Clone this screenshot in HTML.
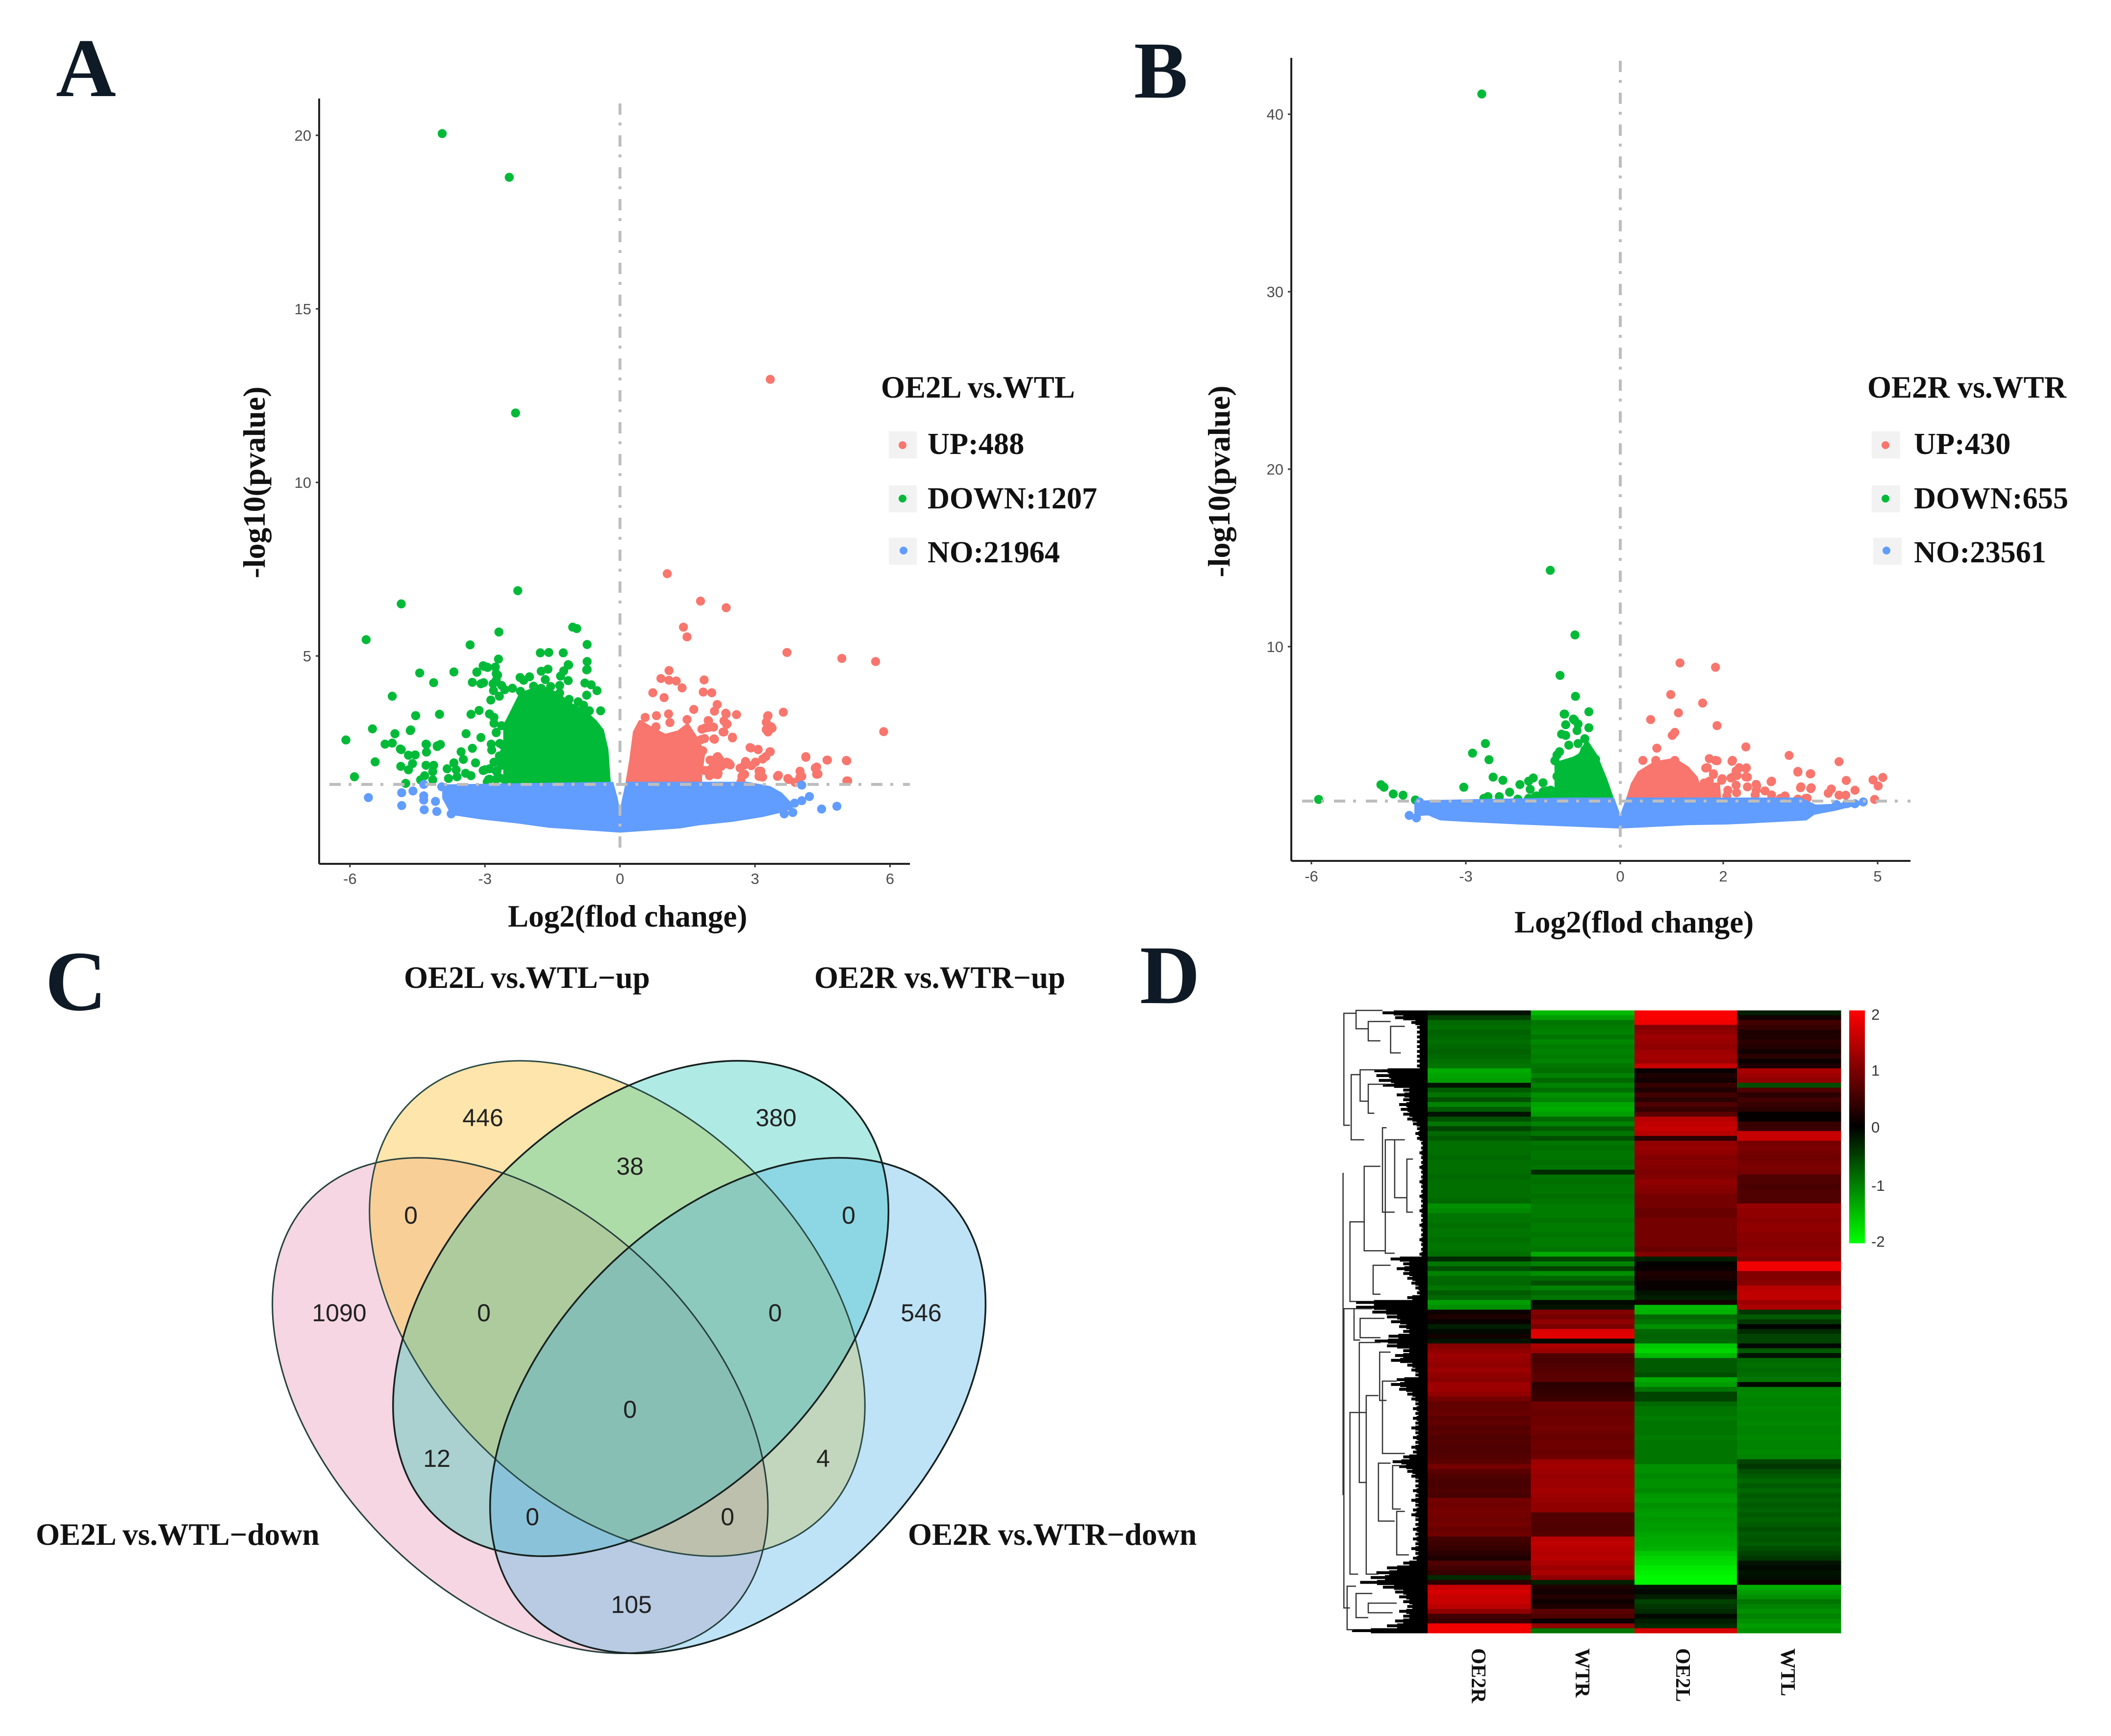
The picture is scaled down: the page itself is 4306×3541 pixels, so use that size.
<!DOCTYPE html>
<html lang="en">
<head>
<meta charset="utf-8">
<title>Differential expression figure</title>
<style>
html,body{margin:0;padding:0;background:#fff;}
svg{display:block;}
.serif{font-family:"Liberation Serif",serif;font-weight:bold;fill:#111;}
.letter{font-family:"Liberation Serif",serif;font-weight:bold;fill:#0e1a25;font-size:170px;}
.lab{font-size:63px;}
.ent{font-size:62.3px;}
.num{font-family:"Liberation Sans",sans-serif;font-size:50px;fill:#222;text-anchor:middle;}
.tick{font-family:"Liberation Sans",sans-serif;font-size:31px;fill:#4d4d4d;}
.cb{font-family:"Liberation Sans",sans-serif;font-size:31px;fill:#333;}
</style>
</head>
<body>
<svg id="fig" xmlns="http://www.w3.org/2000/svg" width="4306" height="3541" viewBox="0 0 4306 3541">
  <defs>
    <linearGradient id="cbGrad" x1="0" y1="0" x2="0" y2="1">
      <stop offset="0" stop-color="#ff0000"/>
      <stop offset="0.5" stop-color="#000000"/>
      <stop offset="1" stop-color="#00ff00"/>
    </linearGradient>
    <clipPath id="cP"><ellipse cx="1061" cy="2867" rx="600" ry="388" transform="rotate(45 1061 2867)"/></clipPath>
    <clipPath id="cY"><ellipse cx="1259" cy="2669" rx="596" ry="394" transform="rotate(45 1259 2669)"/></clipPath>
    <clipPath id="cT"><ellipse cx="1307" cy="2669" rx="596" ry="394" transform="rotate(-45 1307 2669)"/></clipPath>
    <clipPath id="cB"><ellipse cx="1505" cy="2867" rx="600" ry="388" transform="rotate(-45 1505 2867)"/></clipPath>
  </defs>
  <rect width="4306" height="3541" fill="#fff"/>

  <text class="letter" x="114" y="196">A</text>
  <text class="letter" x="2313" y="199" style="font-size:165px">B</text>
  <text class="letter" x="92" y="2060" style="font-size:174px">C</text>
  <text class="letter" x="2325" y="2046">D</text>

  <g id="panelA"></g>
  <g id="panelB"></g>

  <!-- Panel A labels and legend -->
  <text class="serif" font-size="64" transform="translate(540,984) rotate(-90)" text-anchor="middle">-log10(pvalue)</text>
  <text class="serif lab" x="1036" y="1890">Log2(flod change)</text>
  <text class="serif lab" x="1797" y="811">OE2L vs.WTL</text>
  <g>
    <rect x="1813" y="880" width="57" height="55" fill="#f2f2f2"/><circle cx="1841" cy="908" r="8" fill="#F8766D"/>
    <text class="serif ent" x="1892" y="926">UP:488</text>
  </g>
  <g>
    <rect x="1813" y="990" width="57" height="55" fill="#f2f2f2"/><circle cx="1841" cy="1017" r="8" fill="#00BA38"/>
    <text class="serif ent" x="1892" y="1037">DOWN:1207</text>
  </g>
  <g>
    <rect x="1813" y="1097" width="57" height="55" fill="#f2f2f2"/><circle cx="1843" cy="1123" r="8" fill="#619CFF"/>
    <text class="serif ent" x="1892" y="1147">NO:21964</text>
  </g>

  <!-- Panel B labels and legend -->
  <text class="serif" font-size="64" transform="translate(2508,982) rotate(-90)" text-anchor="middle">-log10(pvalue)</text>
  <text class="serif lab" x="3089" y="1902">Log2(flod change)</text>
  <text class="serif lab" x="3809" y="811">OE2R vs.WTR</text>
  <g>
    <rect x="3818" y="880" width="58" height="55" fill="#f2f2f2"/><circle cx="3846" cy="908" r="8" fill="#F8766D"/>
    <text class="serif ent" x="3904" y="926">UP:430</text>
  </g>
  <g>
    <rect x="3818" y="990" width="58" height="55" fill="#f2f2f2"/><circle cx="3846" cy="1017" r="8" fill="#00BA38"/>
    <text class="serif ent" x="3904" y="1037">DOWN:655</text>
  </g>
  <g>
    <rect x="3821" y="1097" width="58" height="55" fill="#f2f2f2"/><circle cx="3848" cy="1123" r="8" fill="#619CFF"/>
    <text class="serif ent" x="3904" y="1147">NO:23561</text>
  </g>

  <!-- Panel C Venn: singles, pairs, triples, centre, then outlines -->
  <g>
    <ellipse cx="1061" cy="2867" rx="600" ry="388" transform="rotate(45 1061 2867)" fill="#f5d6e2"/>
    <ellipse cx="1259" cy="2669" rx="596" ry="394" transform="rotate(45 1259 2669)" fill="#fde5ab"/>
    <ellipse cx="1307" cy="2669" rx="596" ry="394" transform="rotate(-45 1307 2669)" fill="#b0eae4"/>
    <ellipse cx="1505" cy="2867" rx="600" ry="388" transform="rotate(-45 1505 2867)" fill="#bfe3f6"/>

    <g clip-path="url(#cP)"><g clip-path="url(#cY)"><rect x="500" y="2100" width="1600" height="1300" fill="#f8cf97"/></g></g>
    <g clip-path="url(#cY)"><g clip-path="url(#cT)"><rect x="500" y="2100" width="1600" height="1300" fill="#aedca9"/></g></g>
    <g clip-path="url(#cT)"><g clip-path="url(#cB)"><rect x="500" y="2100" width="1600" height="1300" fill="#8dd7e4"/></g></g>
    <g clip-path="url(#cP)"><g clip-path="url(#cT)"><rect x="500" y="2100" width="1600" height="1300" fill="#aad0d0"/></g></g>
    <g clip-path="url(#cY)"><g clip-path="url(#cB)"><rect x="500" y="2100" width="1600" height="1300" fill="#c2d6bd"/></g></g>
    <g clip-path="url(#cP)"><g clip-path="url(#cB)"><rect x="500" y="2100" width="1600" height="1300" fill="#b8cbe3"/></g></g>

    <g clip-path="url(#cP)"><g clip-path="url(#cY)"><g clip-path="url(#cT)"><rect x="500" y="2100" width="1600" height="1300" fill="#aecb9e"/></g></g></g>
    <g clip-path="url(#cY)"><g clip-path="url(#cT)"><g clip-path="url(#cB)"><rect x="500" y="2100" width="1600" height="1300" fill="#8ccabd"/></g></g></g>
    <g clip-path="url(#cP)"><g clip-path="url(#cT)"><g clip-path="url(#cB)"><rect x="500" y="2100" width="1600" height="1300" fill="#8ac3d9"/></g></g></g>
    <g clip-path="url(#cP)"><g clip-path="url(#cY)"><g clip-path="url(#cB)"><rect x="500" y="2100" width="1600" height="1300" fill="#bcc0ac"/></g></g></g>
    <g clip-path="url(#cP)"><g clip-path="url(#cY)"><g clip-path="url(#cT)"><g clip-path="url(#cB)"><rect x="500" y="2100" width="1600" height="1300" fill="#88bfb5"/></g></g></g></g>

    <g fill="none" stroke="#16211f" stroke-width="3.5">
      <ellipse cx="1061" cy="2867" rx="600" ry="388" transform="rotate(45 1061 2867)" stroke="#263f3c" stroke-width="3"/>
      <ellipse cx="1259" cy="2669" rx="596" ry="394" transform="rotate(45 1259 2669)" stroke="#2a4a45" stroke-width="3"/>
      <ellipse cx="1307" cy="2669" rx="596" ry="394" transform="rotate(-45 1307 2669)"/>
      <ellipse cx="1505" cy="2867" rx="600" ry="388" transform="rotate(-45 1505 2867)"/>
    </g>
  </g>
  <text class="serif lab" x="824" y="2015">OE2L vs.WTL−up</text>
  <text class="serif lab" x="1661" y="2015">OE2R vs.WTR−up</text>
  <text class="serif lab" x="73" y="3151">OE2L vs.WTL−down</text>
  <text class="serif lab" x="1852" y="3151">OE2R vs.WTR−down</text>
  <g>
    <text class="num" x="985" y="2297">446</text>
    <text class="num" x="1583" y="2297">380</text>
    <text class="num" x="1285" y="2396">38</text>
    <text class="num" x="838" y="2496">0</text>
    <text class="num" x="1731" y="2496">0</text>
    <text class="num" x="692" y="2695">1090</text>
    <text class="num" x="987" y="2695">0</text>
    <text class="num" x="1581" y="2695">0</text>
    <text class="num" x="1879" y="2695">546</text>
    <text class="num" x="1285" y="2892">0</text>
    <text class="num" x="891" y="2992">12</text>
    <text class="num" x="1679" y="2992">4</text>
    <text class="num" x="1086" y="3111">0</text>
    <text class="num" x="1484" y="3111">0</text>
    <text class="num" x="1288" y="3290">105</text>
  </g>

  <!-- Panel D heatmap -->
  <g id="panelD"></g>
  <rect x="3772" y="2061" width="32" height="475" fill="url(#cbGrad)"/>
  <text class="cb" x="3817" y="2080">2</text>
  <text class="cb" x="3817" y="2194">1</text>
  <text class="cb" x="3817" y="2310">0</text>
  <text class="cb" x="3817" y="2429">-1</text>
  <text class="cb" x="3817" y="2543">-2</text>
</svg>

<script>
/* ---------- Panel A values (log2 fold change, -log10 p) ---------- */
const aXTicks = [-6, -3, 0, 3, 6];
const aYTicks = [5, 10, 15, 20];
const aDownX = [-3.95,-2.46,-2.32,-2.27,-4.86,-5.64,-2.69,-3.33,-1.05,-0.96,-0.73,-1.77,-1.58,-1.26,-0.73,-0.73,-1.15,-2.7,-3.02,-2.94,-3.18,-2.75,-3.69,-4.45,-4.14,-5.06,-4.54,-4.01,-5.5,-6.09,-5.0,-4.65,-5.22,-5.06,-4.86,-4.3,-4.06,-5.44,-5.9,-3.04,-2.96,-2.77,-3.18,-2.72,-3.28,-3.09,-3.03,-2.82,-2.75,-2.81,-2.68,-2.87,-2.63,-2.39,-2.56,-2.21,-2.22,-2.14,-2.01,-1.92,-1.75,-1.6,-1.66,-1.14,-1.25,-1.32,-1.15,-1.34,-1.34,-1.54,-1.75,-1.85,-1.66,-0.74,-0.78,-0.64,-0.51,-0.74,-1.13,-0.93,-0.81,-0.68,-0.43,-1.05,-1.41,-0.71,-0.47,-0.66,-2.9,-2.8,-2.8,-2.63,-2.75,-3.13,-3.31,-4.01,-4.54,-3.42,-3.09,-4.66,-5.0,-4.31,-3.99,-4.06,-4.88,-4.3,-3.28,-3.53,-3.48,-2.86,-2.6,-2.85,-2.53,-2.68,-2.44,-2.24,-4.7,-4.55,-4.61,-4.87,-4.7,-4.31,-4.14,-4.16,-3.69,-3.84,-3.64,-3.21,-3.43,-3.31,-3.62,-3.81,-4.34,-4.43,-4.16,-4.76,-3.04,-2.9,-2.73,-2.63,-2.8,-2.51,-2.9,-2.58,-2.75,-2.95,-2.75,-2.67,-2.58,-2.67,-2.5,-3.0,-2.75,-2.92,-2.67];
const aDownY = [20.05,18.79,12.0,6.88,6.5,5.47,5.69,5.32,5.83,5.79,5.33,5.09,5.1,5.09,4.84,4.61,4.75,4.91,4.7,4.67,4.53,4.49,4.54,4.51,4.23,3.84,3.28,3.32,2.9,2.58,2.76,2.87,2.46,2.49,2.3,2.45,2.41,1.95,1.52,4.72,4.68,4.68,4.54,4.45,4.24,4.2,4.23,4.2,4.3,4.0,3.84,3.73,4.15,4.07,4.03,3.98,4.38,4.3,4.4,4.13,4.56,4.62,4.32,4.74,4.57,4.42,4.29,4.15,3.93,4.12,4.07,3.9,3.88,4.6,4.22,4.17,4.0,3.87,3.75,3.68,3.58,3.42,3.42,3.46,3.55,3.08,2.84,2.86,3.33,3.23,3.06,2.99,2.79,3.43,3.32,3.32,3.28,2.76,2.65,2.85,2.76,2.46,2.45,2.39,2.32,2.23,2.34,2.24,2.02,2.46,2.42,2.29,2.24,2.12,2.12,2.29,2.14,2.15,1.9,1.82,1.72,1.85,1.85,1.67,1.92,1.75,1.72,1.92,1.62,1.55,1.52,1.47,1.55,1.43,1.43,1.33,1.7,1.75,1.7,1.85,1.94,1.9,1.45,1.45,1.45,1.37,2.8,2.48,2.2,2.0,1.9,1.72,1.68,1.44,1.49];
const aUpX = [3.34,1.05,1.79,2.36,1.41,1.49,3.71,4.93,5.68,5.86,1.09,0.91,1.09,1.25,1.38,0.73,0.98,1.87,1.85,2.04,2.16,1.64,2.1,2.36,0.56,0.81,1.08,1.49,1.11,1.97,2.31,0.8,1.97,1.82,2.09,1.8,2.5,2.31,1.84,2.16,2.04,2.38,2.18,1.89,2.18,1.99,2.35,2.59,3.63,3.28,3.25,3.36,3.25,2.37,2.5,2.91,3.07,3.33,3.17,4.13,4.61,5.04,4.37,4.37,4.0,4.0,5.06,3.73,3.89,3.52,3.09,3.01,2.77,2.77,2.69,3.17,2.21,2.37,2.45,2.05,2.13,2.0,2.17,2.42,2.25,2.0,2.17,2.67,2.79,2.92,2.71,3.13,3.09,3.5,3.75,4.04,4.34,4.4,4.13,4.6,5.03,5.04,3.24,3.34,2.89,3.07,3.29,3.29,3.38,2.5,2.1,1.88,2.29,2.38,1.96,1.88,2.08];
const aUpY = [12.97,7.37,6.58,6.39,5.83,5.55,5.1,4.93,4.84,2.82,4.58,4.35,4.3,4.28,4.08,3.94,3.8,4.31,3.96,3.94,3.6,3.46,3.41,3.33,3.23,3.28,3.33,3.17,3.08,3.13,3.13,2.96,2.94,2.89,2.61,2.59,2.64,2.81,2.27,2.09,1.99,1.89,1.85,1.7,1.62,1.55,3.35,3.31,3.38,3.26,3.09,2.96,2.88,3.03,2.65,2.35,2.3,2.24,2.03,2.1,2.0,1.98,1.8,1.59,1.68,1.51,1.4,1.47,1.36,1.56,1.68,1.94,1.86,1.59,1.38,1.51,2.03,1.94,1.86,1.77,1.59,2.0,2.1,1.91,1.82,1.72,1.58,1.77,1.96,1.84,1.53,1.68,1.53,1.53,1.44,1.53,1.77,1.6,2.08,2.0,1.99,1.4,2.1,2.24,2.36,2.31,3.28,2.81,2.92,2.66,2.6,2.62,2.81,3.04,3.14,2.92,2.95];
const aNoX = [-5.59,-4.85,-4.85,-4.6,-4.36,-4.36,-4.36,-4.35,-4.07,-4.1,-3.96,-3.75,4.04,4.21,4.04,3.88,3.67,3.65,3.84,4.48,4.82];
const aNoY = [0.92,1.06,0.69,1.11,1.3,0.97,0.85,0.57,0.52,0.81,1.23,0.45,1.28,0.95,0.83,0.76,0.69,0.45,0.49,0.59,0.67];
/* dense regions: upper outline of the overlapping dots */
const aDownMassX = [-2.55,-2.55,-2.43,-2.2,-1.75,-1.4,-1.1,-0.8,-0.55,-0.4,-0.3,-0.25];
const aDownMassTop = [1.4,3.0,3.3,3.9,4.1,3.9,3.6,3.4,3.1,2.85,2.3,1.4];
const aUpMassX = [0.17,0.25,0.33,0.45,0.7,1.0,1.3,1.5,1.7,1.85,1.78];
const aUpMassTop = [1.38,2.0,2.8,3.1,2.9,2.7,2.8,3.0,2.6,2.2,1.5];
const aNoTopX = [-3.95,-0.15,-0.05,0,0.05,0.13,2.84,3.34,3.6,3.84];
const aNoTopY = [1.3,1.375,0.9,0.56,0.9,1.375,1.375,1.25,1.06,0.73];
const aNoBottomX = [-3.95,-3.75,-3.08,-2.25,-1.58,0,1.33,1.75,2.5,3.17,3.63,3.84];
const aNoBottomY = [0.9,0.42,0.29,0.17,0.05,-0.09,0.03,0.12,0.22,0.36,0.5,0.6];

/* ---------- Panel B values ---------- */
const bXTicks = [-6, -3, 0, 2, 5];
const bYTicks = [10, 20, 30, 40];
const bDownX = [-2.69,-1.36,-0.88,-1.17,-0.87,-0.61,-1.08,-0.91,-1.06,-0.82,-0.61,-0.84,-1.14,-1.06,-0.69,-1.18,-1.0,-0.82,-0.69,-1.27,-1.23,-0.48,-2.62,-2.55,-2.87,-2.47,-2.28,-1.95,-1.69,-1.78,-1.75,-1.5,-2.15,-2.57,-2.35,-2.65,-1.99,-1.78,-1.63,-1.5,-1.35,-1.23,-1.42,-1.67,-1.46,-1.29,-3.04,-4.65,-4.59,-4.41,-4.22,-3.98,-5.86,-0.89,-1.09];
const bDownY = [41.14,14.3,10.66,8.38,7.2,6.33,6.2,5.92,5.6,5.64,5.43,5.27,5.07,5.0,4.81,4.08,4.45,4.54,4.17,3.57,3.89,3.66,4.54,3.63,4.0,2.65,2.47,2.23,2.6,2.42,1.96,2.33,1.8,1.55,1.55,1.45,1.41,1.45,1.59,1.82,1.91,2.69,1.87,1.5,1.5,1.59,2.08,2.22,2.08,1.7,1.63,1.36,1.39,5.86,6.2];
const bUpX = [1.16,1.85,0.98,1.6,1.13,0.59,1.88,1.06,1.01,0.71,2.44,3.28,0.44,0.69,1.06,1.73,1.85,2.18,2.31,2.44,4.25,3.45,3.7,5.1,4.91,5.01,4.39,4.94,4.56,4.38,4.25,4.1,4.04,3.71,3.5,3.63,2.94,2.65,2.44,2.19,2.25,1.98,1.69,1.63,1.81,1.88,1.66,1.81,1.97,2.17,2.31,2.45,2.15,2.27,2.47,2.25,2.47,2.64,2.93,2.09,2.26,2.64,2.81,2.94,2.62,2.07,3.2,3.11,3.45,3.69,3.51,3.7,3.6,3.45,1.73,1.6,1.81,1.85,1.64];
const bUpY = [9.08,8.84,7.3,6.82,6.27,5.89,5.55,5.17,5.0,4.28,4.35,3.87,3.59,3.59,3.59,3.69,3.59,3.59,3.18,3.14,3.52,2.97,2.84,2.63,2.49,2.15,2.46,1.39,1.91,1.63,1.63,1.98,1.74,2.05,2.05,1.46,2.42,2.15,2.66,2.66,3.0,2.56,3.18,2.32,2.84,3.57,3.16,2.79,2.47,3.54,3.17,3.17,2.6,2.74,2.65,2.19,2.1,2.24,2.39,1.91,1.77,1.91,1.87,1.64,1.64,1.59,1.59,1.45,2.93,2.83,2.1,2.0,1.45,1.41,2.42,2.14,1.96,1.59,1.68];
const bNoX = [-4.1,-3.96,-3.9,-3.75,-3.6,4.2,4.4,4.56,4.72];
const bNoY = [0.49,0.35,1.25,0.75,0.6,1.1,1.15,1.15,1.25];
const bDownMassX = [-1.75,-1.4,-1.24,-1.24,-0.9,-0.78,-0.65,-0.48,-0.29,-0.17];
const bDownMassTop = [1.4,1.8,1.95,3.4,3.7,3.9,4.6,3.85,2.5,1.5];
const bUpMassX = [0.16,0.24,0.37,0.67,1.05,1.3,1.47,1.52,1.9,1.92];
const bUpMassTop = [1.5,2.24,2.89,3.43,3.62,3.16,2.6,2.14,2.24,1.5];
const bNoTopX = [-4.0,-3.7,-3,-1,-0.12,0,0.12,3.5,3.65,3.8,4.2,4.4,4.75];
const bNoTopY = [1.3,1.35,1.4,1.5,1.5,0.55,1.5,1.5,1.3,1.1,1.15,1.25,1.3];
const bNoBottomX = [-4.0,-3.73,-3.5,-2.97,-1.97,0,1.32,2.08,2.47,3.62,3.77,4.19,4.38,4.75];
const bNoBottomY = [0.45,0.49,0.21,0.12,-0.02,-0.25,-0.06,-0.02,0.03,0.21,0.53,0.76,0.9,1.13];

/* ---------- Panel D values (row z-scores per sample) ---------- */
const sampleNames = ['OE2R','WTR','OE2L','WTL'];
const oe2r = [-0.2,-0.6,-0.9,-0.95,-0.85,-0.9,-0.95,-0.9,-0.85,-0.9,-0.95,-1,-1.4,-1.35,-1.3,-0.2,-0.8,-1,-0.7,-1.1,-0.8,-0.2,-0.7,-1,-0.6,-0.9,-0.8,-0.95,-0.95,-0.95,-0.9,-0.95,-0.95,-0.95,-0.9,-0.95,-0.95,-0.95,-0.95,-0.9,-1.2,-1.15,-1,-1,-0.95,-1,-1,-0.95,-1,-1,-0.95,-0.4,-1,-0.7,-1.1,-0.9,-0.9,-1,-0.8,-0.9,-1.3,-1.2,0.15,0.3,0.1,-0.3,-0.1,0.2,-0.2,1.1,1.2,1.3,1.25,1.2,1.3,1.2,1.15,1.3,1.3,1.2,1.0,0.85,0.85,0.9,0.8,0.85,0.75,0.8,0.7,0.75,0.7,0.7,0.75,0.8,1.0,0.8,0.7,0.65,0.65,0.7,0.65,1.0,0.95,1,1,0.95,1,0.9,0.95,0.6,0.55,0.5,0.4,0.3,0.7,0.6,0.5,-0.4,0.4,1.6,1.7,1.6,1.6,1.5,1.2,0.6,0.5,1.9,1.9];
const wtr = [-1.5,-1.3,-1,-1.05,-1.1,-1,-1.15,-1.05,-1.1,-1.05,-1.1,-1,-0.95,-1.1,-0.9,-1.1,-0.95,-1.2,-1.1,-1.35,-1.4,-1.3,-0.9,-1.1,-0.8,-1,-0.7,-1,-0.95,-1,-1,-0.95,-1,-0.4,-1,-0.95,-1,-1,-0.95,-1,-1.05,-1.05,-1.05,-1,-1.05,-1.05,-1,-1.05,-1.05,-1,-1.4,-0.6,-1.1,-0.6,-1.2,-0.9,-0.7,-1.1,-0.9,-1,-0.1,-0.2,1.1,1.0,1.2,1.05,1.75,1.8,-0.1,1.4,1.3,0.7,0.65,0.7,0.75,0.8,0.8,0.4,0.45,0.5,0.55,0.95,0.95,0.9,0.95,0.95,1,0.95,0.9,0.95,0.95,0.9,0.95,1.3,1.35,1.3,1.25,1.3,1.3,1.35,1.3,1.25,1.2,1.2,0.7,0.75,0.7,0.7,0.75,1.5,1.55,1.5,1.45,1.5,1.4,1.3,1.4,1.2,-0.3,0.3,0.2,0.35,0.15,0.3,0.8,0.7,0.1,1.2,-1];
const oe2l = [1.95,1.95,1.9,1.1,1.2,1.3,1.25,1.2,1.3,1.35,1.3,1.6,0.1,0.3,0.2,0.5,0.3,0.6,0.4,0.7,0.5,0.8,1.5,1.55,1.6,1.5,0.4,1.2,1.25,1.2,1.1,1.15,1.1,1.05,1.1,1.2,1.15,1.1,1.0,1.0,1.0,0.9,0.9,1,1,1,1,1,1,0.9,1.1,-0.3,0.05,0.1,0.3,0.25,0.1,0.1,-0.2,-0.3,0.2,-1.5,-1.45,-0.9,-1.0,-1.2,-0.9,-0.85,-0.9,-1.6,-1.7,-1.5,-0.8,-0.8,-0.8,-0.7,-1.4,-1.3,-1.0,-0.6,-0.6,-0.9,-1,-1,-1.05,-1,-1,-1,-1.05,-1,-1,-1,-1,-1,-1.2,-1.2,-1.15,-1.2,-1.2,-1.15,-1.25,-1.3,-1.2,-1.25,-1.3,-1.25,-1.3,-1.3,-1.35,-1.4,-1.4,-1.45,-1.6,-1.7,-1.75,-1.85,-1.9,-1.95,-1.95,-0.2,-0.1,-0.3,-0.6,-0.5,-0.4,-0.1,-0.3,-0.4,1.7];
const wtl = [-0.3,0.2,0.6,0.5,0.3,0.3,0.4,0.35,0.2,0.4,0.1,0.3,1.4,1.3,1.2,-0.7,0.7,0.4,0.6,0.5,0.4,0.05,0.05,0.5,0.55,1.6,1.6,1,1.05,1,0.95,1,1.05,1,0.7,0.7,0.65,0.7,0.7,0.7,1.25,1.2,1.2,1.15,1.2,1.2,1.15,1.15,1.1,1.15,1.2,1.1,1.9,1.9,1.1,1.1,1.15,1.5,1.55,1.55,1.3,1.4,-0.5,-0.8,-0.5,-0.05,-0.4,-0.6,-0.6,-0.1,-0.8,-0.2,-0.9,-0.95,-0.9,-0.95,-1.0,-0.1,-1.1,-1.15,-1.1,-1.1,-1.15,-1.1,-1.1,-1.15,-1.1,-1.1,-1.15,-1.1,-1.1,-1.15,-1.1,-0.6,-0.5,-0.7,-0.8,-0.9,-0.8,-0.9,-0.8,-0.85,-0.8,-0.85,-0.8,-0.85,-0.8,-0.7,-0.8,-0.75,-0.8,-0.7,-0.6,-0.5,-0.2,-0.1,-0.2,-0.15,0.1,-1.4,-1.3,-1.2,-1,-1.1,-1.2,-1.1,-1.2,-1.3,-1.2];
const sampleValues = [oe2r, wtr, oe2l, wtl];
/* dendrogram: leaf branch height per row, and merges [height, rowA, rowB, heightA, heightB] */
const leafHeights = [111,80,40,26,26,26,26,26,26,26,26,26,131,126,120,110,60,76,60,70,66,60,50,36,26,30,26,16,16,20,16,16,20,16,16,20,16,16,20,16,16,20,16,16,20,16,16,20,16,16,20,91,60,76,60,50,40,30,26,50,176,176,136,100,90,70,60,96,130,100,60,80,90,50,40,30,76,90,70,50,40,30,36,30,36,30,40,30,36,30,40,36,60,86,70,50,40,30,30,36,30,40,30,36,40,30,30,36,30,36,30,40,30,36,60,100,126,140,166,110,80,70,60,50,70,60,80,100,186];
const dendroMerges = [[206,0.6,23.8,176,191],[176,0,3.8,111,146],[146,2.3,6.3,91,116],[91,3.3,8.8,56,66],[188,13.3,26.8,166,156],[166,12.3,18.8,111,146],[146,15.3,21.3,101,131],[111,24.3,41.8,101,81],[191,43.8,60.3,156,176],[156,32.3,49.8,116,104],[104,26.8,50.3,81,81],[81,26.8,38.8,56,51],[51,30.8,41.8,36,36],[134,52.8,58.8,91,116],[206,61.8,123.8,181,191],[181,61.8,68.3,136,166],[166,63.8,67.8,106,116],[191,83.3,116.8,151,171],[168,68.8,97.8,116,151],[118,70.8,80.8,91,101],[151,79.8,116.8,121,121],[121,93.8,105.8,91,81],[111,76.8,91.8,76,56],[86,94.3,103.3,56,66],[76,103.8,112.8,56,46],[198,119.3,128.3,176,181],[176,120.8,125.8,136,146],[146,122.8,124.8,76,86],[208,33.8,100.3,206,206]];

/* ---------- drawing ---------- */
const NS = 'http://www.w3.org/2000/svg';
function mk(tag, attrs, parent) {
  const el = document.createElementNS(NS, tag);
  for (const k in attrs) el.setAttribute(k, attrs[k]);
  parent.appendChild(el);
  return el;
}
const COL = {up:'#F8766D', down:'#00BA38', no:'#619CFF', guide:'#bdbdbd', axis:'#222'};

function drawMass(g, sx, sy, xs, tops, base, color) {
  const pts = xs.map((x, i) => sx(x) + ',' + sy(tops[i]));
  pts.push(sx(xs[xs.length - 1]) + ',' + sy(base));
  pts.push(sx(xs[0]) + ',' + sy(base));
  const el = mk('polygon', {points: pts.join(' '), fill: color, stroke: color, 'stroke-width': 8, 'stroke-linejoin': 'round'}, g);
  
  
}
function drawBand(g, sx, sy, tx, ty, bx, by, color) {
  const pts = tx.map((x, i) => sx(x) + ',' + sy(ty[i]));
  for (let i = bx.length - 1; i >= 0; i--) pts.push(sx(bx[i]) + ',' + sy(by[i]));
  const el = mk('polygon', {points: pts.join(' '), fill: color}, g);
  
  
}
function drawDots(g, sx, sy, xs, ys, color) {
  xs.forEach((x, i) => {
    const c = mk('circle', {cx: sx(x), cy: sy(ys[i]), r: 9.2, fill: color}, g);
    
    
  });
}
function drawAxes(g, sx, sy, frame, xTicks, yTicks, xLabelY) {
  const v = mk('line', {x1: sx(0), x2: sx(0), y1: frame.vTop, y2: frame.vBottom, stroke: COL.guide, 'stroke-width': 6, 'stroke-dasharray': '23 16 6 20'}, g);
  
  
  const h = mk('line', {x1: frame.hLeft, x2: frame.right, y1: sy(1.3), y2: sy(1.3), stroke: COL.guide, 'stroke-width': 6, 'stroke-dasharray': '23 16 6 20'}, g);
  
  
  const ya = mk('line', {x1: frame.left, x2: frame.left, y1: frame.top, y2: frame.bottom, stroke: COL.axis, 'stroke-width': 4}, g);
  
  
  const xa = mk('line', {x1: frame.left, x2: frame.right, y1: frame.bottom, y2: frame.bottom, stroke: COL.axis, 'stroke-width': 4}, g);
  
  
  xTicks.forEach(t => {
    const m = mk('line', {x1: sx(t), x2: sx(t), y1: frame.bottom, y2: frame.bottom + 7, stroke: '#333', 'stroke-width': 3}, g);
    
    
    const l = mk('text', {x: sx(t), y: xLabelY, 'text-anchor': 'middle', class: 'tick'}, g);
    l.textContent = t;
    
    
  });
  yTicks.forEach(t => {
    const m = mk('line', {x1: frame.left - 7, x2: frame.left, y1: sy(t), y2: sy(t), stroke: '#333', 'stroke-width': 3}, g);
    
    
    const l = mk('text', {x: frame.left - 16, y: sy(t) + 11, 'text-anchor': 'end', class: 'tick'}, g);
    l.textContent = t;
    
    
  });
}

/* Panel A */
(function () {
  const g = document.getElementById('panelA');
  const sx = x => 1264.6 + 91.8 * x;
  const sy = y => 1692 - 70.8 * y;
  drawMass(g, sx, sy, aUpMassX, aUpMassTop, 1.3, COL.up);
  drawDots(g, sx, sy, aUpX, aUpY, COL.up);
  drawMass(g, sx, sy, aDownMassX, aDownMassTop, 1.3, COL.down);
  drawDots(g, sx, sy, aDownX, aDownY, COL.down);
  drawBand(g, sx, sy, aNoTopX, aNoTopY, aNoBottomX, aNoBottomY, COL.no);
  drawDots(g, sx, sy, aNoX, aNoY, COL.no);
  drawAxes(g, sx, sy, {left: 651, right: 1856, top: 201, bottom: 1762, vTop: 211, vBottom: 1741, hLeft: 672}, aXTicks, aYTicks, 1803);
})();

/* Panel B */
(function () {
  const g = document.getElementById('panelB');
  const sx = x => 3305 + 105 * x;
  const sy = y => 1681 - 36.2 * y;
  drawMass(g, sx, sy, bUpMassX, bUpMassTop, 1.3, COL.up);
  drawDots(g, sx, sy, bUpX, bUpY, COL.up);
  drawMass(g, sx, sy, bDownMassX, bDownMassTop, 1.3, COL.down);
  drawDots(g, sx, sy, bDownX, bDownY, COL.down);
  drawBand(g, sx, sy, bNoTopX, bNoTopY, bNoBottomX, bNoBottomY, COL.no);
  drawDots(g, sx, sy, bNoX, bNoY, COL.no);
  drawAxes(g, sx, sy, {left: 2634, right: 3897, top: 118, bottom: 1756, vTop: 124, vBottom: 1735, hLeft: 2656}, bXTicks, bYTicks, 1798);
})();

/* Panel D */
(function () {
  const g = document.getElementById('panelD');
  const top = 2061, bottom = 3331, rows = oe2r.length;
  const rowH = (bottom - top) / rows;
  const colEdges = [2912, 3122.6, 3334, 3543, 3755];
  const labelX = [3002, 3214, 3419, 3633];
  const sy = r => top + r * rowH;
  const sh = h => 2912 - h * 0.829;
  const colour = v => {
    const t = Math.min(1, Math.abs(v) / 2), c = Math.round(255 * Math.pow(t, 1.12));
    return v >= 0 ? 'rgb(' + c + ',0,0)' : 'rgb(0,' + c + ',0)';
  };
  sampleValues.forEach((vals, c) => {
    vals.forEach((v, r) => {
      const cell = mk('rect', {x: colEdges[c], y: sy(r), width: colEdges[c + 1] - colEdges[c] + 0.5, height: rowH + 0.5, fill: colour(v)}, g);
      
      
    });
    const lab = mk('text', {transform: 'translate(' + labelX[c] + ',3362) rotate(90)', class: 'serif', 'font-size': 42}, g);
    lab.textContent = sampleNames[c];
    
    
  });
  leafHeights.forEach((h, r) => {
    const leaf = mk('rect', {x: sh(h), y: sy(r) + rowH * 0.2, width: 2912 - sh(h), height: rowH * 0.6, fill: '#000'}, g);
    
    
    const core = mk('rect', {x: sh(h * 0.75), y: sy(r), width: 2912 - sh(h * 0.75), height: rowH + 0.5, fill: '#000'}, g);
    
    
  });
  dendroMerges.forEach(m => {
    const d = 'M' + sh(m[3]) + ' ' + sy(m[1]) + 'H' + sh(m[0]) + 'V' + sy(m[2]) + 'H' + sh(m[4]);
    const p = mk('path', {d: d, fill: 'none', stroke: '#333', 'stroke-width': 2.5}, g);
    
    
  });
})();
</script>
</body>
</html>
